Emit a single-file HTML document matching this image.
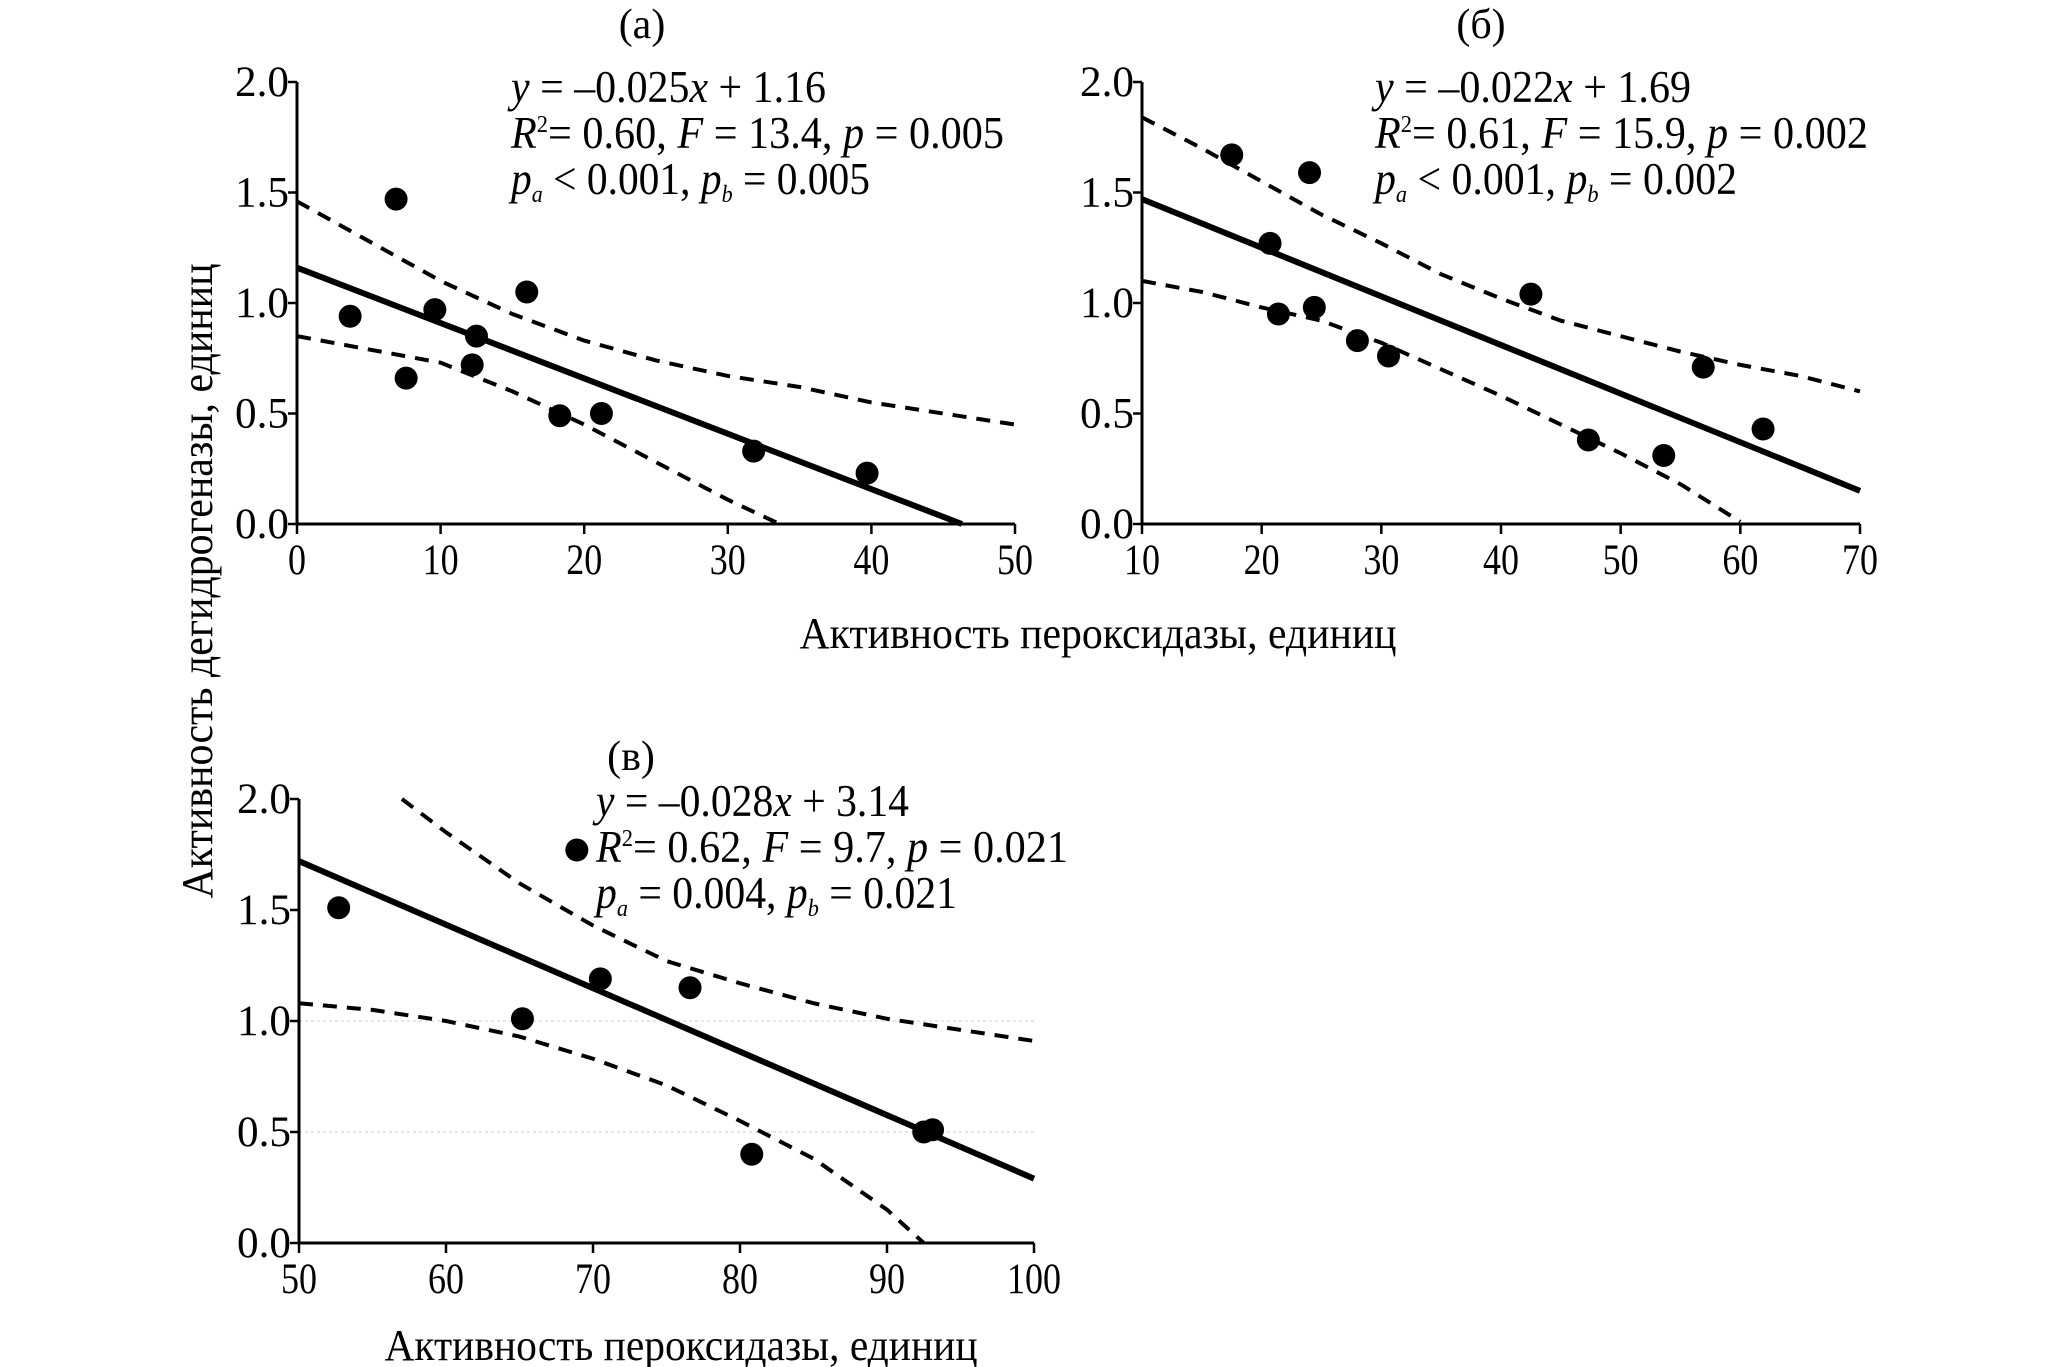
<!DOCTYPE html>
<html><head><meta charset="utf-8"><style>
html,body{margin:0;padding:0;background:#fff;}
svg{display:block;font-family:"Liberation Serif",serif;}
svg text{font-family:"Liberation Serif","Times New Roman",serif;}
</style></head><body>
<svg id="fig" width="2067" height="1367" viewBox="0 0 2067 1367" xmlns="http://www.w3.org/2000/svg"></svg>
<script>
// Panel (a)
const aX = [3.7, 6.9, 7.6, 9.6, 12.2, 12.5, 16.0, 18.3, 21.2, 31.8, 39.7];
const aY = [0.94, 1.47, 0.66, 0.97, 0.72, 0.85, 1.05, 0.49, 0.50, 0.33, 0.23];
const aFit = [[0, 1.16], [46.3, 0.0]];
const aUpX = [0, 5, 10, 15, 20, 25, 30, 35, 40, 45, 50];
const aUpY = [1.46, 1.28, 1.10, 0.95, 0.83, 0.74, 0.67, 0.62, 0.55, 0.50, 0.45];
const aLoX = [0, 5, 10, 15, 20, 25, 30, 33.6];
const aLoY = [0.85, 0.79, 0.73, 0.60, 0.45, 0.28, 0.11, 0.0];
const aXTicks = [0, 10, 20, 30, 40, 50];
// Panel (б)
const bX = [17.5, 20.7, 21.4, 24.0, 24.4, 28.0, 30.6, 42.5, 47.3, 53.6, 56.9, 61.9];
const bY = [1.67, 1.27, 0.95, 1.59, 0.98, 0.83, 0.76, 1.04, 0.38, 0.31, 0.71, 0.43];
const bFit = [[10, 1.47], [70, 0.15]];
const bUpX = [10, 15, 20, 25, 30, 35, 40, 45, 50, 55, 60, 65, 70];
const bUpY = [1.84, 1.70, 1.55, 1.40, 1.27, 1.13, 1.02, 0.92, 0.85, 0.78, 0.72, 0.67, 0.60];
const bLoX = [10, 15, 20, 25, 30, 35, 40, 45, 50, 55, 60];
const bLoY = [1.10, 1.05, 0.98, 0.92, 0.82, 0.70, 0.58, 0.45, 0.32, 0.18, 0.01];
const bXTicks = [10, 20, 30, 40, 50, 60, 70];
// Panel (в)
const cX = [52.7, 65.2, 68.9, 70.5, 76.6, 80.8, 92.5, 93.1];
const cY = [1.51, 1.01, 1.77, 1.19, 1.15, 0.40, 0.50, 0.51];
const cFit = [[50, 1.72], [100, 0.29]];
const cUpX = [57, 60, 65, 70, 75, 80, 85, 90, 95, 100];
const cUpY = [2.0, 1.85, 1.62, 1.43, 1.27, 1.17, 1.08, 1.01, 0.96, 0.91];
const cLoX = [50, 55, 60, 65, 70, 75, 80, 85, 90, 92.5];
const cLoY = [1.08, 1.05, 1.00, 0.93, 0.83, 0.71, 0.55, 0.38, 0.15, 0.0];
const cXTicks = [50, 60, 70, 80, 90, 100];
const yTicks = [0.0, 0.5, 1.0, 1.5, 2.0];
const cGrid = [0.5, 1.0];

const NS = "http://www.w3.org/2000/svg";
const FF = '"Liberation Serif", serif';
const svg = document.getElementById('fig');
function mk(tag, attrs, parent) {
  const e = document.createElementNS(NS, tag);
  for (const k in attrs) e.setAttribute(k, attrs[k]);
  (parent || svg).appendChild(e);
  return e;
}
function txt(s, x, y, size, anchor, parent, name, len) {
  const t = mk('text', {x: x, y: y, 'font-size': size, 'font-family': FF, 'text-anchor': anchor || 'start', fill: '#000'}, parent);
  if (len) { t.setAttribute('textLength', len); t.setAttribute('lengthAdjust', 'spacingAndGlyphs'); }
  
  
  t.textContent = s;
  return t;
}
function panel(id, px0, px1, py0, py1, xmin, xmax, xs, ys, fit, upX, upY, loX, loY, xticks, grid) {
  const g = mk('g', {});
  
  
  const sx = v => px0 + (v - xmin) / (xmax - xmin) * (px1 - px0);
  const sy = v => py0 + (v - 0) / 2 * (py1 - py0);
  if (grid) {
    grid.forEach(v => {
      const l = mk('line', {x1: px0, x2: px1, y1: sy(v), y2: sy(v), stroke: '#ccc', 'stroke-width': 1, 'stroke-dasharray': '3 3'}, g);
      
      
    });
  }
  const ax = mk('path', {d: `M${px0} ${sy(2)} L${px0} ${py0} L${px1} ${py0}`, fill: 'none', stroke: '#000', 'stroke-width': 3}, g);
  
  
  yTicks.forEach(v => {
    const y = sy(v);
    const tk = mk('line', {x1: px0 - 9, x2: px0, y1: y, y2: y, stroke: '#000', 'stroke-width': 2.5}, g);
    
    
    txt(v.toFixed(1), px0 - 8, y + 14, 43, 'end', g, 'y-tick-label', 54);
  });
  xticks.forEach(v => {
    const x = sx(v);
    const tk = mk('line', {x1: x, x2: x, y1: py0, y2: py0 + 10, stroke: '#000', 'stroke-width': 2.5}, g);
    
    
    const s = String(v);
    txt(s, x, py0 + 50, 43, 'middle', g, 'x-tick-label', s.length * 18);
  });
  const dash = (X, Y, nm) => {
    const d = X.map((v, i) => (i ? 'L' : 'M') + sx(v) + ' ' + sy(Y[i])).join(' ');
    const p = mk('path', {d: d, fill: 'none', stroke: '#000', 'stroke-width': 4, 'stroke-dasharray': '14 10'}, g);
    
    
  };
  dash(upX, upY, 'upper-confidence-band');
  dash(loX, loY, 'lower-confidence-band');
  const fl = mk('line', {x1: sx(fit[0][0]), y1: sy(fit[0][1]), x2: sx(fit[1][0]), y2: sy(fit[1][1]), stroke: '#000', 'stroke-width': 6}, g);
  
  
  xs.forEach((v, i) => {
    const c = mk('circle', {cx: sx(v), cy: sy(ys[i]), r: 11.5, fill: '#000'}, g);
    
    
  });
  return g;
}
panel('a', 297, 1015, 524, 82, 0, 50, aX, aY, aFit, aUpX, aUpY, aLoX, aLoY, aXTicks, null);
panel('b', 1142, 1860, 524, 82, 10, 70, bX, bY, bFit, bUpX, bUpY, bLoX, bLoY, bXTicks, null);
panel('c', 299, 1034, 1243, 799, 50, 100, cX, cY, cFit, cUpX, cUpY, cLoX, cLoY, cXTicks, cGrid);

txt('(а)', 642, 38, 42, 'middle', svg, 'panel-a-title');
txt('(б)', 1481, 38, 42, 'middle', svg, 'panel-b-title');
txt('(в)', 631, 770, 42, 'middle', svg, 'panel-c-title');

function eq(x, y0, l1, l2, l3, w) {
  const g = mk('g', {'font-size': 45, 'font-family': FF});
  
  
  const lines = [l1, l2, l3];
  lines.forEach((parts, i) => {
    const t = mk('text', {x: x, y: y0 + i * 46, 'font-family': FF, textLength: w[i], lengthAdjust: 'spacingAndGlyphs'}, g);
    
    
    parts.forEach(p => {
      const s = mk('tspan', {'font-family': FF}, t);
      if (p[1] === 'i') s.setAttribute('font-style', 'italic');
      if (p[1] === 'sup') { s.setAttribute('font-size', 24); s.setAttribute('dy', -16); }
      if (p[1] === 'sub') { s.setAttribute('font-size', 24); s.setAttribute('font-style', 'italic'); s.setAttribute('dy', 8); }
      if (p[2]) s.setAttribute('dy', p[2]);
      s.textContent = p[0];
    });
  });
}
eq(511, 102,
  [['y', 'i'], [' = –0.025'], ['x', 'i'], [' + 1.16']],
  [['R', 'i'], ['2', 'sup'], ['= 0.60, ', '', 16], ['F', 'i'], [' = 13.4, '], ['p', 'i'], [' = 0.005']],
  [['p', 'i'], ['a', 'sub'], [' < 0.001, ', '', -8], ['p', 'i'], ['b', 'sub'], [' = 0.005', '', -8]],
  [315, 493, 359]);
eq(1375, 102,
  [['y', 'i'], [' = –0.022'], ['x', 'i'], [' + 1.69']],
  [['R', 'i'], ['2', 'sup'], ['= 0.61, ', '', 16], ['F', 'i'], [' = 15.9, '], ['p', 'i'], [' = 0.002']],
  [['p', 'i'], ['a', 'sub'], [' < 0.001, ', '', -8], ['p', 'i'], ['b', 'sub'], [' = 0.002', '', -8]],
  [316, 493, 362]);
eq(596, 816,
  [['y', 'i'], [' = –0.028'], ['x', 'i'], [' + 3.14']],
  [['R', 'i'], ['2', 'sup'], ['= 0.62, ', '', 16], ['F', 'i'], [' = 9.7, '], ['p', 'i'], [' = 0.021']],
  [['p', 'i'], ['a', 'sub'], [' = 0.004, ', '', -8], ['p', 'i'], ['b', 'sub'], [' = 0.021', '', -8]],
  [313, 472, 361]);

const yt = txt('Активность дегидрогеназы, единиц', 0, 0, 44, 'middle', svg, 'y-axis-title', 635);
yt.setAttribute('transform', 'translate(212,581) rotate(-90)');
txt('Активность пероксидазы, единиц', 1098, 648, 44, 'middle', svg, 'x-axis-title-top', 597);
txt('Активность пероксидазы, единиц', 681, 1360, 44, 'middle', svg, 'x-axis-title-bottom', 593);
</script>
</body></html>
